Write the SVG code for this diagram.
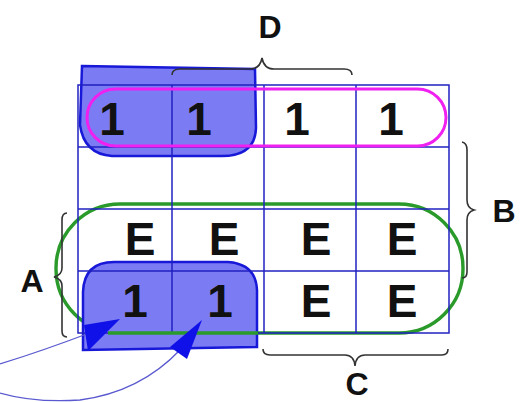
<svg xmlns="http://www.w3.org/2000/svg" width="525" height="402" viewBox="0 0 525 402">
  <defs>
    <style>
      .grid { stroke: #2020c0; stroke-width: 1.5; fill: none; }
      .blob { fill: #7b7bf4; stroke: #1818d8; stroke-width: 2.5; }
      .cell { font-family: "Liberation Sans", Arial, sans-serif; font-weight: bold; font-size: 46px; fill: #111; text-anchor: middle; }
      .lbl { font-family: "Liberation Sans", Arial, sans-serif; font-weight: bold; font-size: 32px; fill: #111; text-anchor: middle; }
      .brace { stroke: #333; stroke-width: 1.6; fill: none; }
      .arrow { stroke: #5a5ad0; stroke-width: 1.3; fill: none; }
      .head { fill: #1010e8; }
    </style>
  </defs>

  <rect width="525" height="402" fill="#ffffff"/>

  <!-- green group: rows 3-4 -->
  <g id="loop-E">
    <rect x="56" y="204" width="407" height="129" rx="64" ry="64" fill="none" stroke="#2a9a2a" stroke-width="3.4"/>
  </g>

  <!-- shaded pair, top row -->
  <g id="blob-top">
    <path class="blob" d="M82 66 L255 69 L256 128 Q255 156 222 156 L112 156 Q84 154 80 125 Z"/>
  </g>

  <!-- shaded pair, bottom row -->
  <g id="blob-bottom">
    <path class="blob" d="M83 350 L83 292 Q84 262 114 262 L228 262 Q256 264 257 290 L257 347 Z"/>
  </g>

  <!-- 4x4 map grid -->
  <g id="grid" class="grid">
    <rect x="78" y="85" width="371" height="248"/>
    <line x1="172" y1="85" x2="172" y2="333"/>
    <line x1="264" y1="85" x2="264" y2="333"/>
    <line x1="356" y1="85" x2="356" y2="333"/>
    <line x1="78" y1="147" x2="449" y2="147"/>
    <line x1="78" y1="209" x2="449" y2="209"/>
    <line x1="78" y1="271" x2="449" y2="271"/>
  </g>

  <!-- green bottom edge drawn over the shaded pair -->
  <g id="loop-E-edge">
    <line x1="108" y1="333" x2="258" y2="333" stroke="#2a9a2a" stroke-width="3.4"/>
  </g>

  <!-- magenta group: top row -->
  <g id="loop-top">
    <rect x="87" y="89" width="359" height="57" rx="28.5" ry="28.5" fill="none" stroke="#f020f0" stroke-width="3"/>
  </g>

  <!-- cell values -->
  <g id="cells">
    <text class="cell" x="112" y="135">1</text>
    <text class="cell" x="199" y="135">1</text>
    <text class="cell" x="297" y="135">1</text>
    <text class="cell" x="391" y="135">1</text>
    <text class="cell" x="140" y="255">E</text>
    <text class="cell" x="224" y="255">E</text>
    <text class="cell" x="316" y="255">E</text>
    <text class="cell" x="402" y="255">E</text>
    <text class="cell" x="135" y="317">1</text>
    <text class="cell" x="220" y="317">1</text>
    <text class="cell" x="316" y="317">E</text>
    <text class="cell" x="402" y="317">E</text>
  </g>

  <!-- variable braces and labels -->
  <g id="label-D">
    <path class="brace" d="M172 75 Q172 69 180 69 L250 69 Q260 69 262 58 Q264 69 274 69 L344 69 Q352 69 352 75"/>
    <text class="lbl" x="270" y="38">D</text>
  </g>
  <g id="label-B">
    <path class="brace" d="M462 142 Q467 143 467 150 L467 200 Q467 208 474 210 Q467 212 467 220 L467 272 Q467 278 462 278"/>
    <text class="lbl" x="504" y="222">B</text>
  </g>
  <g id="label-A">
    <path class="brace" d="M67 213 Q62 213 62 220 L62 268 Q62 275 54 277 Q62 279 62 286 L62 331 Q62 337 67 337"/>
    <text class="lbl" x="32" y="292">A</text>
  </g>
  <g id="label-C">
    <path class="brace" d="M263 349 Q263 355 270 355 L345 355 Q354 355 355 366 Q356 355 365 355 L442 355 Q448 355 448 349"/>
    <text class="lbl" x="357" y="395">C</text>
  </g>

  <!-- pointer arrows -->
  <g id="connectors">
    <path class="arrow" d="M0 364 Q45 350 92 332"/>
    <polygon class="head" points="120,319 84,325 88,351"/>
    <path class="arrow" d="M0 393 Q35 403 80 400 Q140 392 180 350"/>
    <polygon class="head" points="202,320 170,347 187,359"/>
  </g>
</svg>
